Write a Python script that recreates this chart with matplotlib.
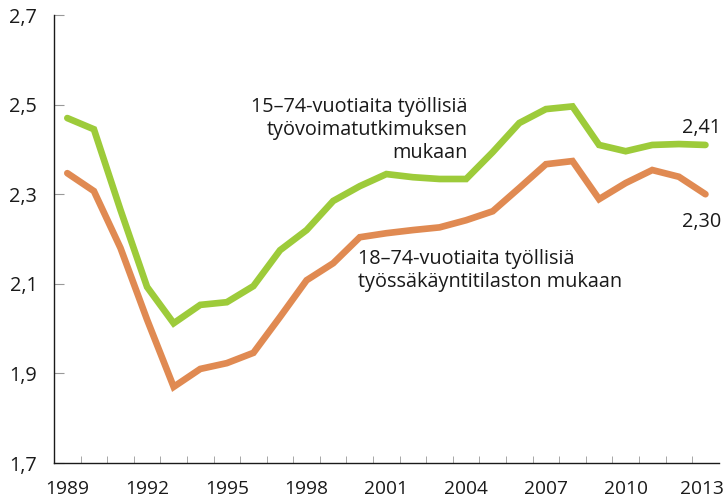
import numpy as np
import matplotlib.pyplot as plt
from matplotlib.transforms import ScaledTranslation

plt.rcParams['font.family'] = ['Open Sans', 'DejaVu Sans']

# Data
years = list(range(1989, 2014))
lfs_15_74 = [2.47, 2.445, 2.265, 2.093, 2.012, 2.053, 2.059, 2.095, 2.175, 2.22,
             2.285, 2.318, 2.345, 2.338, 2.334, 2.334, 2.394, 2.459, 2.49, 2.496,
             2.41, 2.396, 2.41, 2.412, 2.41]
reg_18_74 = [2.347, 2.307, 2.18, 2.02, 1.87, 1.91, 1.923, 1.946, 2.026, 2.108,
             2.146, 2.204, 2.213, 2.22, 2.226, 2.242, 2.262, 2.314, 2.367, 2.374,
             2.289, 2.325, 2.354, 2.339, 2.30]
yticks = [1.7, 1.9, 2.1, 2.3, 2.5, 2.7]

green = '#9dcb3a'
orange = '#e08a52'
fs = 14.3

fig = plt.figure(figsize=(7.26, 5.01), dpi=100)
ax = fig.add_axes([0.0744, 0.0758, 0.9156, 0.8942])

x = np.arange(len(years))
ax.plot(x, lfs_15_74, color=green, lw=4.8, solid_capstyle='round', solid_joinstyle='miter')
ax.plot(x, reg_18_74, color=orange, lw=4.8, solid_capstyle='round', solid_joinstyle='miter')

ax.set_xlim(-0.5, len(years) - 0.5)
ax.set_ylim(1.7, 2.7)
ax.set_yticks(yticks)
ax.set_yticklabels([f'{v:.1f}'.replace('.', ',') for v in yticks])
ax.set_xticks(x[::3])
ax.set_xticklabels([str(y) for y in years[::3]])
ax.set_xticks(np.arange(0.5, len(years) - 1, 1), minor=True)
ax.tick_params(axis='x', which='major', length=0, pad=12, labelsize=13.8)
ax.tick_params(axis='x', which='minor', direction='in', length=5, color='#999999')
ax.tick_params(axis='y', direction='in', length=7, color='#999999', pad=12, labelsize=fs)
ax.tick_params(labelcolor='#1a1a1a')
# nudge the last year label a little so it stays inside the figure
last = ax.get_xticklabels()[-1]
last.set_transform(last.get_transform() + ScaledTranslation(-4 / 100, 0, fig.dpi_scale_trans))
for s in ['top', 'right']:
    ax.spines[s].set_visible(False)
for s in ['left', 'bottom']:
    ax.spines[s].set_color('#1a1a1a')
    ax.spines[s].set_linewidth(1.0)

ax.text(15.06, 2.443, '15–74-vuotiaita työllisiä\ntyövoimatutkimuksen\nmukaan', ha='right',
        va='center', fontsize=fs, linespacing=1.22, color='#1a1a1a')
ax.text(10.93, 2.130, '18–74-vuotiaita työllisiä\ntyössäkäyntitilaston mukaan', ha='left',
        va='center', fontsize=fs, linespacing=1.22, color='#1a1a1a')
ax.text(24.6, 2.448, '2,41', ha='right', va='center', fontsize=fs, color='#1a1a1a')
ax.text(24.6, 2.238, '2,30', ha='right', va='center', fontsize=fs, color='#1a1a1a')

fig.savefig('out.png', dpi=100)
